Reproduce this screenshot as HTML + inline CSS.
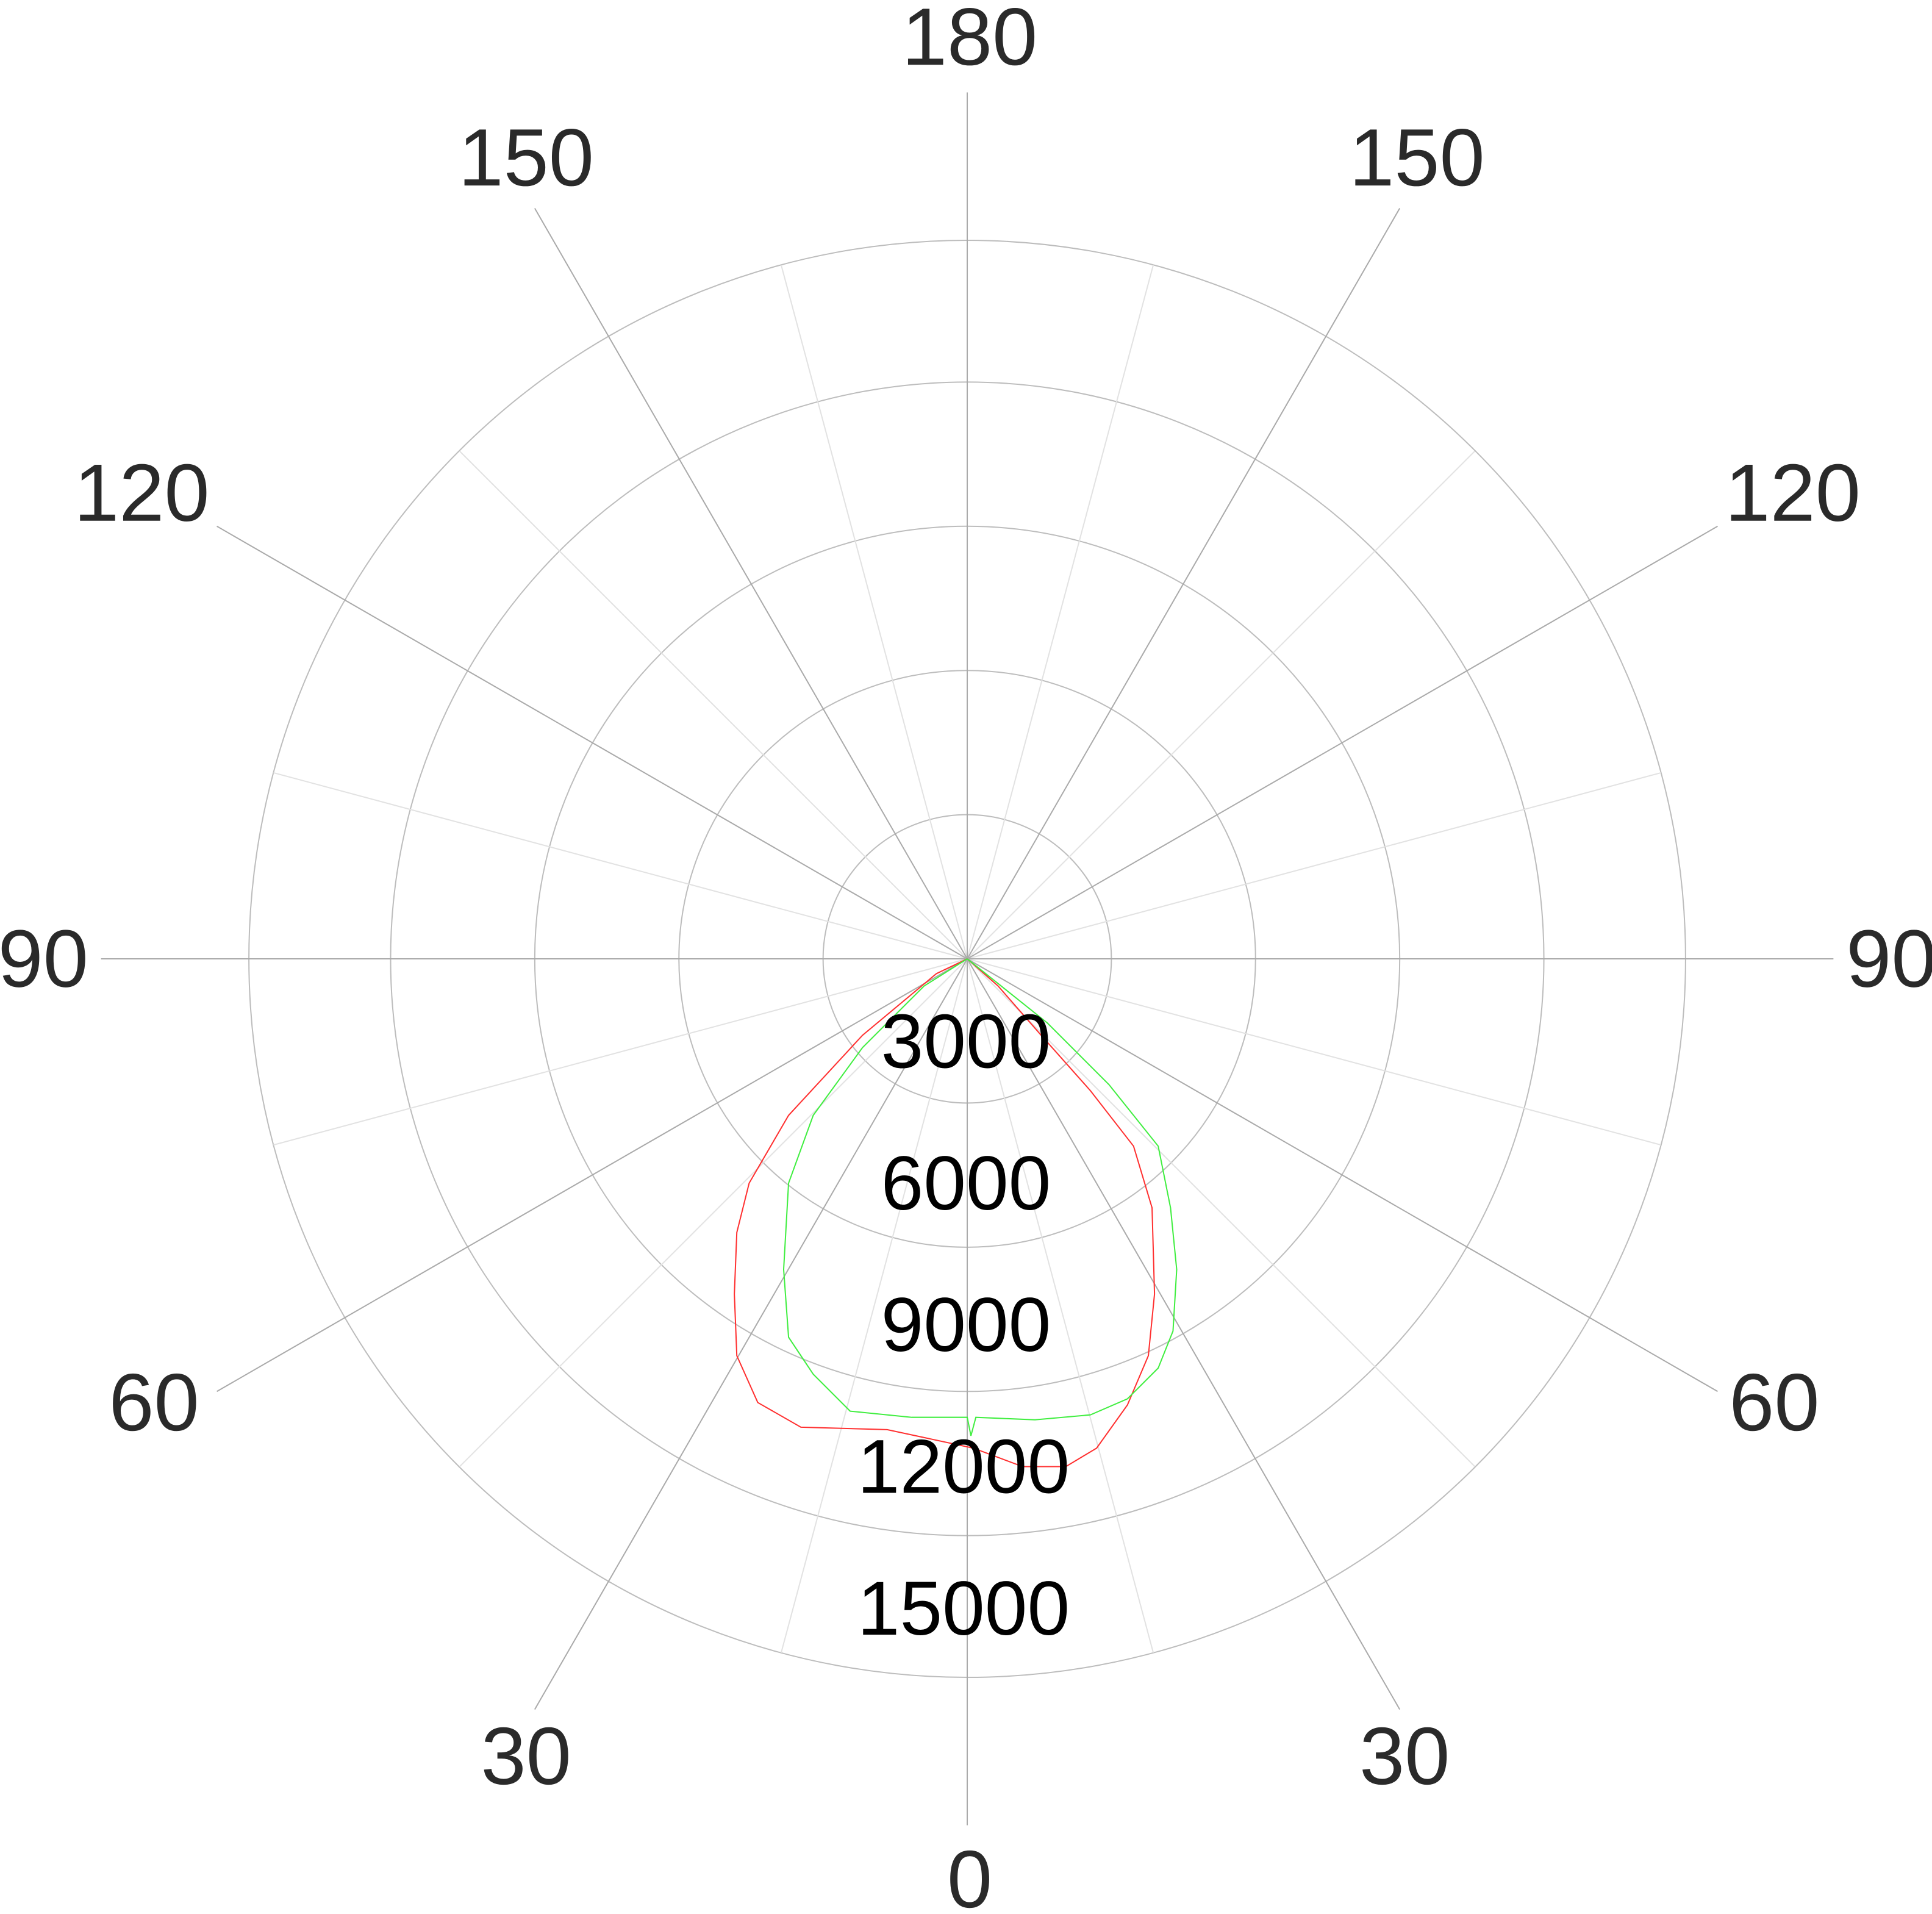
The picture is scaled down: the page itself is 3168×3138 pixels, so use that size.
<!DOCTYPE html>
<html><head><meta charset="utf-8"><style>html,body{margin:0;padding:0;background:#fff}svg{display:block}</style></head>
<body>
<svg width="3168" height="3138" viewBox="0 0 1568 1553" preserveAspectRatio="none" xmlns="http://www.w3.org/2000/svg">
<g fill="none" stroke="#bdbdbd" stroke-width="1">
<circle cx="785" cy="778" r="117"/>
<circle cx="785" cy="778" r="234"/>
<circle cx="785" cy="778" r="351"/>
<circle cx="785" cy="778" r="468"/>
<circle cx="785" cy="778" r="583"/>
</g>
<g stroke="#e2e2e2" stroke-width="1">
<line x1="785" y1="778" x2="936" y2="1341"/>
<line x1="785" y1="778" x2="634" y2="1341"/>
<line x1="785" y1="778" x2="936" y2="215"/>
<line x1="785" y1="778" x2="634" y2="215"/>
<line x1="785" y1="778" x2="1197" y2="1190"/>
<line x1="785" y1="778" x2="373" y2="1190"/>
<line x1="785" y1="778" x2="1197" y2="366"/>
<line x1="785" y1="778" x2="373" y2="366"/>
<line x1="785" y1="778" x2="1348" y2="929"/>
<line x1="785" y1="778" x2="222" y2="929"/>
<line x1="785" y1="778" x2="1348" y2="627"/>
<line x1="785" y1="778" x2="222" y2="627"/>
</g>
<g stroke="#aaaaaa" stroke-width="1">
<line x1="785" y1="75" x2="785" y2="1481"/>
<line x1="82" y1="778" x2="1488" y2="778"/>
<line x1="434" y1="169" x2="1136" y2="1387"/>
<line x1="1136" y1="169" x2="434" y2="1387"/>
<line x1="176" y1="427" x2="1394" y2="1129"/>
<line x1="1394" y1="427" x2="176" y2="1129"/>
</g>
<polyline fill="none" stroke="#ff3030" stroke-width="1" points="785,778 760,790 700,840 640,905 608,960 598,1000 596,1050 598,1100 615,1138 650,1158 720,1160 790,1175 830,1190 865,1190 890,1175 915,1140 932,1100 937,1050 935,980 920,930 885,885 845,840 810,800 785,778"/>
<polyline fill="none" stroke="#40ee40" stroke-width="1" points="785,778 750,800 700,850 660,905 640,960 636,1030 640,1085 660,1115 690,1145 740,1150 785,1150 788,1165 792,1150 840,1152 885,1148 915,1135 940,1110 952,1080 955,1030 950,980 940,930 900,880 850,830 800,790 785,778"/>
<g font-family="Liberation Sans, sans-serif" font-size="66" fill="#2a2a2a" text-anchor="middle" dominant-baseline="central">
<text x="787" y="30">180</text>
<text x="427" y="128">150</text>
<text x="1150" y="128">150</text>
<text x="115" y="400">120</text>
<text x="1455" y="400">120</text>
<text x="35" y="778">90</text>
<text x="1535" y="778">90</text>
<text x="125" y="1138">60</text>
<text x="1440" y="1138">60</text>
<text x="427" y="1425">30</text>
<text x="1140" y="1425">30</text>
<text x="787" y="1525">0</text>
</g>
<g font-family="Liberation Sans, sans-serif" font-size="62" fill="#000" text-anchor="middle" dominant-baseline="central">
<text x="784" y="845">3000</text>
<text x="784" y="960">6000</text>
<text x="784" y="1075">9000</text>
<text x="782" y="1190">12000</text>
<text x="782" y="1305">15000</text>
</g>
</svg>
</body></html>
